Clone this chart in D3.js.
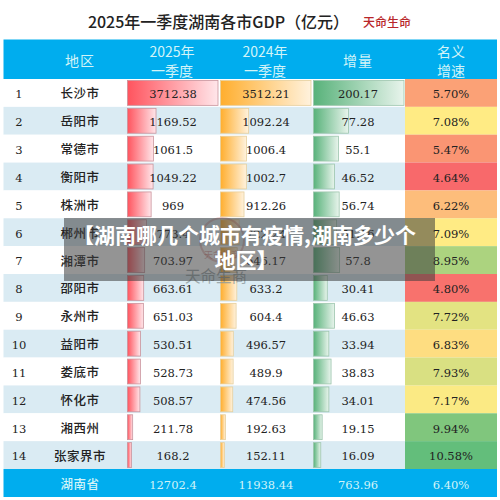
<!DOCTYPE html>
<html><head><meta charset="utf-8">
<script src="https://cdn.jsdelivr.net/npm/d3@7"></script>
<style>html,body{margin:0;padding:0;background:#fff}svg{display:block}</style>
</head><body><svg id="c" width="500" height="500"></svg>
<script>
const regions=["长沙市","岳阳市","常德市","衡阳市","株洲市","郴州市","湘潭市","邵阳市","永州市","益阳市","娄底市","怀化市","湘西州","张家界市"];
const gdp2025=[3712.38,1169.52,1061.5,1049.22,969,773.4,703.97,663.61,651.03,530.51,528.73,508.57,211.78,168.2];
const gdp2024=[3512.21,1092.24,1006.4,1002.7,912.26,722.24,646.17,633.2,604.4,496.57,489.9,474.56,192.63,152.11];
const increments=[200.17,77.28,55.1,46.52,56.74,51.16,57.8,30.41,46.63,33.94,38.83,34.01,19.15,16.09];
const growth=[5.70,7.08,5.47,4.64,6.22,7.09,8.95,4.80,7.72,6.83,7.93,7.17,9.94,10.58];
const totalRow=["湖南省","12702.4","11938.44","763.96","6.40%"];
const headers=[["地区"],["2025年","一季度"],["2024年","一季度"],["增量"],["名义","增速"]];

const CJK='"Noto Sans CJK SC","Noto Sans",sans-serif';
const NUM='"DejaVu Serif","Noto Sans CJK SC",serif';
const svg=d3.select("#c");
const defs=svg.append("defs");
const tLeft=3.5,tRight=497,tTop=39.5,hBottom=79,rBottom=469,tBottom=497;
const y=d3.scaleBand().domain(regions).range([hBottom,rBottom]);
const barCols=[
 {vals:gdp2025,x0:127.5,x1:218,cx:173,id:"gr",c0:"#ff545e",c1:"#ffe6ea",s:"#c9939c"},
 {vals:gdp2024,x0:220.5,x1:311,cx:266,id:"go",c0:"#ffae2e",c1:"#fff2dd",s:"#e6cf9c"},
 {vals:increments,x0:313.5,x1:404,cx:358,id:"gg",c0:"#58b27a",c1:"#e8f4ec",s:"#9cc5ad"}];
barCols.forEach(b=>{
 const g=defs.append("linearGradient").attr("id",b.id);
 g.append("stop").attr("offset","0%").attr("stop-color",b.c0);
 g.append("stop").attr("offset","100%").attr("stop-color",b.c1);
});
// title
svg.append("text").attr("x",218.5).attr("y",28).attr("text-anchor","middle")
 .attr("font-family",CJK).attr("font-size",16).attr("fill","#222").attr("font-weight",500).text("2025年一季度湖南各市GDP（亿元）");
svg.append("text").attr("x",387).attr("y",27).attr("text-anchor","middle").attr("font-family",CJK)
 .attr("font-size",12).attr("font-weight",500).attr("fill","#b8262a").text("天命生命");
// header
svg.append("rect").attr("x",tLeft).attr("y",tTop).attr("width",tRight-tLeft).attr("height",hBottom-tTop).attr("fill","#00adee");
const hx=[80,172,265,358,451];
headers.forEach((h,i)=>h.forEach((t,j)=>{
 svg.append("text").attr("x",hx[i]).attr("y",h.length==1?66:(j==0?57:75.5)).attr("text-anchor","middle")
  .attr("font-family",CJK).attr("font-size",14).attr("letter-spacing",h.length==1?1:0).attr("fill","#d2f4f8").text(t);
}));
// row backgrounds
svg.append("g").selectAll("rect").data(regions).join("rect")
 .attr("x",tLeft).attr("y",d=>y(d)).attr("width",tRight-tLeft).attr("height",y.bandwidth())
 .attr("fill",(d,i)=>i%2?"#daebf3":"#ffffff");
// heat cells
const heat=d3.scaleLinear().domain([d3.min(growth),d3.median(growth),d3.max(growth)]).range(["#f8696b","#ffeb84","#63be7b"]);
svg.append("g").selectAll("rect").data(regions).join("rect")
 .attr("x",405).attr("y",d=>y(d)).attr("width",tRight-405).attr("height",y.bandwidth())
 .attr("fill",(d,i)=>heat(growth[i]));
// bars
barCols.forEach(b=>{
 const xs=d3.scaleLinear().domain([0,d3.max(b.vals)]).range([b.x0,b.x1]);
 svg.append("g").selectAll("rect").data(b.vals).join("rect")
  .attr("x",b.x0).attr("y",(d,i)=>y(regions[i])+1.5).attr("height",y.bandwidth()-3)
  .attr("width",d=>xs(d)-b.x0).attr("fill",`url(#${b.id})`).attr("stroke",b.s).attr("stroke-width",.8);
 svg.append("g").selectAll("text").data(b.vals).join("text")
  .attr("x",b.cx).attr("y",(d,i)=>y(regions[i])+y.bandwidth()/2+5.3).attr("text-anchor","middle")
  .attr("font-family",NUM).attr("font-size",11.5).attr("fill","#222").text(d=>d);
});
const fmt=d3.format(".2f");
svg.append("g").selectAll("text").data(growth).join("text")
 .attr("x",451).attr("y",(d,i)=>y(regions[i])+y.bandwidth()/2+5.3).attr("text-anchor","middle")
 .attr("font-family",NUM).attr("font-size",11.5).attr("fill","#222").text(d=>fmt(d)+"%");
svg.append("g").selectAll("text").data(regions).join("text")
 .attr("x",19).attr("y",d=>y(d)+y.bandwidth()/2+5.3).attr("text-anchor","middle")
 .attr("font-family",NUM).attr("font-size",11.5).attr("fill","#222").text((d,i)=>i+1);
svg.append("g").selectAll("text").data(regions).join("text")
 .attr("x",80).attr("y",d=>y(d)+y.bandwidth()/2+5.5).attr("text-anchor","middle")
 .attr("font-family",CJK).attr("font-size",12.5).attr("font-weight",500).attr("letter-spacing",.5).attr("fill","#222").text(d=>d);
// total row
svg.append("rect").attr("x",tLeft).attr("y",rBottom).attr("width",tRight-tLeft).attr("height",tBottom-rBottom).attr("fill","#00adee");
const tx=[80,173,266,358,451];
totalRow.forEach((t,i)=>svg.append("text").attr("x",tx[i]).attr("y",489).attr("text-anchor","middle")
 .attr("font-family",i?NUM:CJK).attr("font-size",i?11.5:12.5).attr("font-weight",i?400:500).attr("letter-spacing",i?0:.5).attr("fill","#d2f4f8").text(t));
// watermark
svg.append("circle").attr("cx",222).attr("cy",240).attr("r",22).attr("fill","none").attr("stroke","#c0504d").attr("stroke-width",2).attr("opacity",.3);
svg.append("text").attr("x",222).attr("y",258).attr("text-anchor","middle").attr("font-family",CJK).attr("font-size",9).attr("fill","#c0504d").attr("opacity",.45).text("天命生商");
svg.append("text").attr("x",216).attr("y",282).attr("text-anchor","middle").attr("font-family",CJK).attr("font-size",15.5).attr("fill","#8e9a9e").attr("opacity",.8).text("天命生商");
// overlay banner
svg.append("rect").attr("x",64).attr("y",218).attr("width",371).attr("height",63).attr("fill","#3c3c3c").attr("opacity",.55);
[["【湖南哪几个城市有疫情,湖南多少个",244.5,243],["地区】",246,268]].forEach(([t,xx,yy])=>
 svg.append("text").attr("x",xx).attr("y",yy).attr("text-anchor","middle").attr("font-family",CJK)
  .attr("font-size",21).attr("font-weight",700).attr("fill","#fff").text(t));
</script></body></html>
